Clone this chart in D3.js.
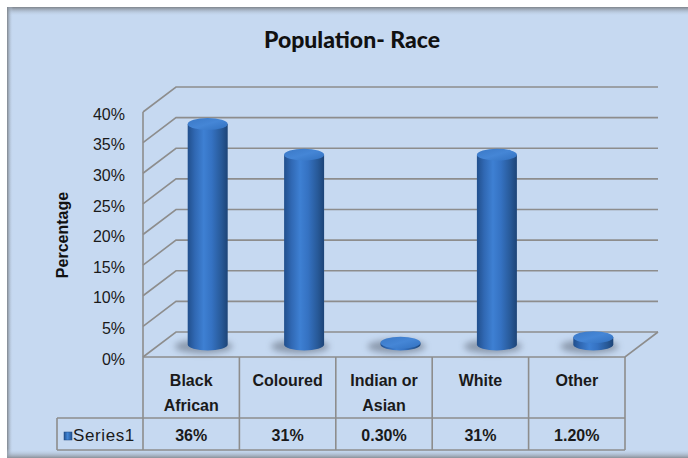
<!DOCTYPE html>
<html>
<head>
<meta charset="utf-8">
<script src="https://cdn.jsdelivr.net/npm/d3@7"></script>
<style>
  body { margin: 0; background: #ffffff; }
  svg { display: block; }
</style>
</head>
<body>
<div id="chart"></div>
<script>
// chart data
const categories = ["Black African", "Coloured", "Indian or Asian", "White", "Other"];
const categoryLines = [["Black", "African"], ["Coloured"], ["Indian or", "Asian"], ["White"], ["Other"]];
const values = [36, 31, 0.3, 31, 1.2];
const valueLabels = ["36%", "31%", "0.30%", "31%", "1.20%"];
const yTicks = [0, 5, 10, 15, 20, 25, 30, 35, 40];
const seriesName = "Series1";
const chartTitle = "Population- Race";
const yTitle = "Percentage";

const width = 688, height = 458;
const depth = { dx: 33, dy: -25 };
const gridColor = "#8d8d8d";

function initializeChart(containerName) {
    let context = Object()

    context.svg = d3.select("#" + containerName)
        .append("svg")
        .attr("width", width)
        .attr("height", height);

    let defs = context.svg.append("defs");

    // cylinder body gradient
    let body = defs.append("linearGradient").attr("id", "cylBody")
        .attr("x1", "0%").attr("x2", "100%").attr("y1", "0%").attr("y2", "0%");
    [["0%", "#214f8c"], ["18%", "#3068b3"], ["40%", "#3e80d3"], ["60%", "#3572c2"], ["85%", "#275896"], ["100%", "#1d4477"]]
        .forEach(s => body.append("stop").attr("offset", s[0]).attr("stop-color", s[1]));

    let top = defs.append("linearGradient").attr("id", "cylTop")
        .attr("x1", "0%").attr("x2", "100%").attr("y1", "0%").attr("y2", "100%");
    [["0%", "#3a78c6"], ["50%", "#4586d6"], ["100%", "#3170bf"]]
        .forEach(s => top.append("stop").attr("offset", s[0]).attr("stop-color", s[1]));

    let key = defs.append("linearGradient").attr("id", "keyFill")
        .attr("x1", "0%").attr("x2", "100%");
    [["0%", "#24528f"], ["45%", "#4286d6"], ["100%", "#24528f"]]
        .forEach(s => key.append("stop").attr("offset", s[0]).attr("stop-color", s[1]));

    // edge shading of the chart frame
    let edgeTop = defs.append("linearGradient").attr("id", "edgeTop")
        .attr("x1", "0").attr("x2", "0").attr("y1", "0").attr("y2", "1");
    edgeTop.append("stop").attr("offset", "0%").attr("stop-color", "#7f858c");
    edgeTop.append("stop").attr("offset", "100%").attr("stop-color", "#c6d9f1").attr("stop-opacity", 0);
    let edgeLeft = defs.append("linearGradient").attr("id", "edgeLeft")
        .attr("x1", "0").attr("x2", "1").attr("y1", "0").attr("y2", "0");
    edgeLeft.append("stop").attr("offset", "0%").attr("stop-color", "#7f858c");
    edgeLeft.append("stop").attr("offset", "100%").attr("stop-color", "#c6d9f1").attr("stop-opacity", 0);
    let edgeBottom = defs.append("linearGradient").attr("id", "edgeBottom")
        .attr("x1", "0").attr("x2", "0").attr("y1", "1").attr("y2", "0");
    edgeBottom.append("stop").attr("offset", "0%").attr("stop-color", "#8a9098");
    edgeBottom.append("stop").attr("offset", "100%").attr("stop-color", "#c6d9f1").attr("stop-opacity", 0);

    defs.append("filter").attr("id", "blur")
        .attr("x", "-50%").attr("y", "-100%").attr("width", "200%").attr("height", "300%")
        .append("feGaussianBlur").attr("stdDeviation", 3);

    // background
    context.svg.append("rect")
        .attr("x", 7).attr("y", 7).attr("width", width - 7).attr("height", height - 7)
        .attr("fill", "#c6d9f1");
    context.svg.append("rect").attr("x", 7).attr("y", 7).attr("width", width - 7).attr("height", 9)
        .attr("fill", "url(#edgeTop)");
    context.svg.append("rect").attr("x", 7).attr("y", 7).attr("width", 6).attr("height", height - 7)
        .attr("fill", "url(#edgeLeft)");
    context.svg.append("rect").attr("x", 7).attr("y", height - 9).attr("width", width - 7).attr("height", 9)
        .attr("fill", "url(#edgeBottom)");

    return context
}

function initializeAxis(context) {
    context.x = d3.scaleBand()
        .domain(categories)
        .range([143, 625]);
    context.y = d3.scaleLinear()
        .domain([0, 40])
        .range([357, 112]);

    let x = context.x, y = context.y, svg = context.svg;
    let x0 = x.range()[0], x1 = x.range()[1];

    // walls and gridlines
    let grid = svg.append("g")
        .attr("fill", "none")
        .attr("stroke", gridColor)
        .attr("stroke-width", 1.6);

    grid.selectAll("path.grid")
        .data(yTicks)
        .enter()
        .append("path")
        .attr("class", "grid")
        .attr("d", d => "M" + x0 + "," + y(d) +
            "L" + (x0 + depth.dx) + "," + (y(d) + depth.dy) +
            "L" + (x1 + depth.dx) + "," + (y(d) + depth.dy));

    // left wall front edge
    grid.append("line")
        .attr("x1", x0).attr("x2", x0)
        .attr("y1", y(40)).attr("y2", y(0));

    // floor front and right edges
    grid.append("path")
        .attr("d", "M" + x0 + "," + y(0) + "L" + x1 + "," + y(0) +
            "L" + (x1 + depth.dx) + "," + (y(0) + depth.dy));

    // y axis labels
    let yAxis = svg.append("g")
        .attr("transform", "translate(125,2)")
        .call(d3.axisLeft(y).tickValues(yTicks).tickSize(0).tickPadding(0)
            .tickFormat(d => d + "%"));
    yAxis.select(".domain").remove();
    yAxis.selectAll("text")
        .attr("fill", "#1a1a1a")
        .style("font-family", "Liberation Sans, Arial, sans-serif")
        .style("font-size", "16px");

    // titles
    svg.append("text")
        .attr("x", 352).attr("y", 48)
        .attr("text-anchor", "middle")
        .style("font-family", "Lato, sans-serif")
        .style("font-weight", "900")
        .style("font-size", "23px")
        .attr("fill", "#111")
        .text(chartTitle);

    svg.append("text")
        .attr("transform", "translate(68,235) rotate(-90)")
        .attr("text-anchor", "middle")
        .style("font-family", "Liberation Sans, Arial, sans-serif")
        .style("font-weight", "bold")
        .style("font-size", "16px")
        .attr("fill", "#111")
        .text(yTitle);
}

function drawCylinders(context) {
    let x = context.x, y = context.y;
    let rx = 20, ry = 6;
    let cx = (d, i) => x(categories[i]) + x.bandwidth() / 2 + depth.dx / 2;
    let base = y(0) + depth.dy / 2;
    let topY = d => y(d) + depth.dy / 2;

    let bars = context.svg.append("g")
        .selectAll("g.bar")
        .data(values)
        .enter()
        .append("g")
        .attr("class", "bar");

    // soft shadow on the floor
    bars.append("ellipse")
        .attr("cx", (d, i) => cx(d, i) - 4)
        .attr("cy", base + 2)
        .attr("rx", rx + 9)
        .attr("ry", ry + 1)
        .attr("fill", "#5d6878")
        .attr("opacity", 0.55)
        .attr("filter", "url(#blur)");

    // body
    bars.append("path")
        .attr("fill", "url(#cylBody)")
        .attr("d", (d, i) => {
            let c = cx(d, i), t = topY(d);
            return "M" + (c - rx) + "," + t +
                "L" + (c - rx) + "," + base +
                "A" + rx + "," + ry + " 0 0 0 " + (c + rx) + "," + base +
                "L" + (c + rx) + "," + t + "Z";
        });

    // top cap
    bars.append("ellipse")
        .attr("cx", (d, i) => cx(d, i))
        .attr("cy", d => topY(d))
        .attr("rx", rx)
        .attr("ry", ry)
        .attr("fill", "url(#cylTop)");
}

function drawTable(context) {
    let x = context.x, svg = context.svg;
    let x0 = x.range()[0], x1 = x.range()[1];
    let rowTop = context.y(0), rowMid = 418, rowBottom = 450, legendLeft = 57;

    let lines = svg.append("g")
        .attr("stroke", gridColor)
        .attr("stroke-width", 1.6)
        .attr("fill", "none");

    lines.append("line").attr("x1", legendLeft).attr("x2", x1).attr("y1", rowMid).attr("y2", rowMid);
    lines.append("line").attr("x1", legendLeft).attr("x2", x1).attr("y1", rowBottom).attr("y2", rowBottom);
    lines.append("line").attr("x1", legendLeft).attr("x2", legendLeft).attr("y1", rowMid).attr("y2", rowBottom);

    lines.selectAll("line.col")
        .data(categories.concat(["end"]))
        .enter()
        .append("line")
        .attr("class", "col")
        .attr("x1", (d, i) => i < categories.length ? x(d) : x1)
        .attr("x2", (d, i) => i < categories.length ? x(d) : x1)
        .attr("y1", rowTop)
        .attr("y2", rowBottom);

    let font = "Liberation Sans, Arial, sans-serif";

    // category names
    let cat = svg.append("g")
        .selectAll("text")
        .data(categoryLines)
        .enter()
        .append("text")
        .attr("text-anchor", "middle")
        .style("font-family", font)
        .style("font-weight", "bold")
        .style("font-size", "16px")
        .attr("fill", "#1a1a1a");
    cat.selectAll("tspan")
        .data((d, i) => d.map(line => ({ line: line, cat: categories[i] })))
        .enter()
        .append("tspan")
        .attr("x", d => x(d.cat) + x.bandwidth() / 2)
        .attr("y", (d, j) => 386 + j * 25)
        .text(d => d.line);

    // values
    svg.append("g")
        .selectAll("text")
        .data(valueLabels)
        .enter()
        .append("text")
        .attr("x", (d, i) => x(categories[i]) + x.bandwidth() / 2)
        .attr("y", 441)
        .attr("text-anchor", "middle")
        .style("font-family", font)
        .style("font-weight", "bold")
        .style("font-size", "16px")
        .attr("fill", "#1a1a1a")
        .text(d => d);

    // legend key
    svg.append("rect")
        .attr("x", 64).attr("y", 432).attr("width", 8).attr("height", 8)
        .attr("fill", "url(#keyFill)")
        .attr("stroke", "#1f4a84").attr("stroke-width", 0.5);
    svg.append("text")
        .attr("x", 73).attr("y", 441)
        .style("font-family", font)
        .style("font-size", "17px")
        .style("letter-spacing", "0.6px")
        .attr("fill", "#1a1a1a")
        .text(seriesName);
}

let context = initializeChart("chart");
initializeAxis(context);
drawCylinders(context);
drawTable(context);
</script>
</body>
</html>
